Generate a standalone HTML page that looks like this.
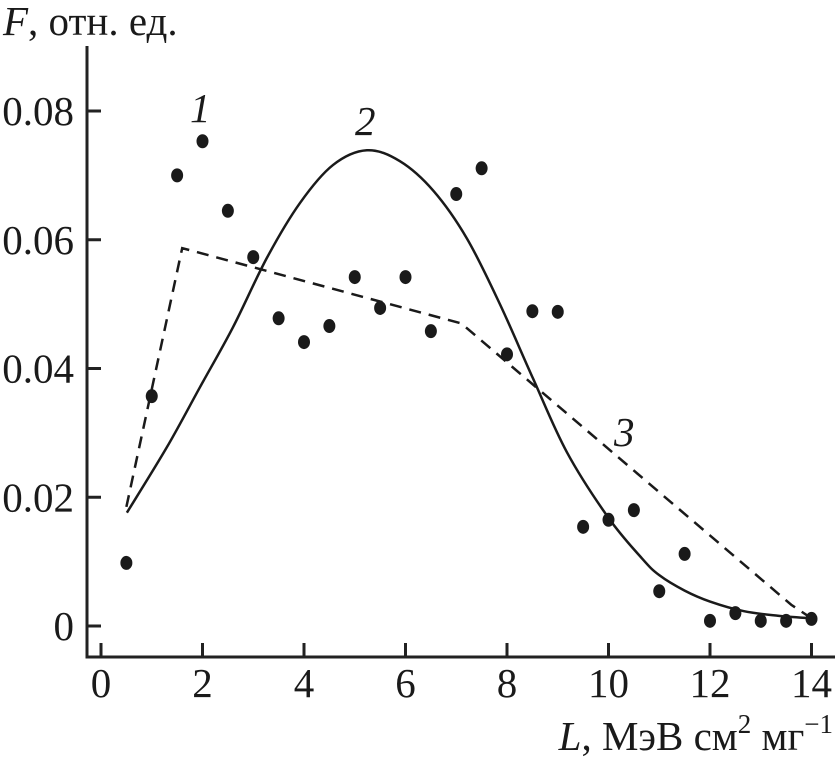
<!DOCTYPE html>
<html><head><meta charset="utf-8"><style>
html,body{margin:0;padding:0;background:#fff}
svg text{font-family:"Liberation Serif",serif;fill:#1a1a1a}
</style></head><body>
<svg id="chart" width="835" height="763" viewBox="0 0 835 763" xmlns="http://www.w3.org/2000/svg">
<g id="axes"></g>
<g id="marks"></g>
<text x="3" y="35" font-size="41"><tspan font-style="italic">F</tspan>, отн. ед.</text>
<text x="833" y="750" font-size="41" text-anchor="end"><tspan font-style="italic">L</tspan>, МэВ см<tspan font-size="27" dy="-17">2</tspan><tspan dy="17"> мг</tspan><tspan font-size="27" dy="-17">−1</tspan></text>
<text x="190" y="122" font-size="41" font-style="italic">1</text>
<text x="355" y="135" font-size="41" font-style="italic">2</text>
<text x="614" y="446" font-size="41" font-style="italic">3</text>
</svg>
<script>
const xTicks=[0,2,4,6,8,10,12,14];
const yTicks=[0,0.02,0.04,0.06,0.08];
const yTickLabels=["0","0.02","0.04","0.06","0.08"];
const pointX=[0.5,1,1.5,2,2.5,3,3.5,4,4.5,5,5.5,6,6.5,7,7.5,8,8.5,9,9.5,10,10.5,11,11.5,12,12.5,13,13.5,14];
const pointY=[0.0098,0.0357,0.0700,0.0753,0.0645,0.0573,0.0478,0.0441,0.0466,0.0542,0.0494,0.0542,0.0458,0.0671,0.0711,0.0422,0.0489,0.0488,0.0154,0.0165,0.0180,0.0054,0.0112,0.0008,0.0020,0.0008,0.0008,0.0011];
const curveX=[0.51,1.3,1.95,2.6,3.27,3.92,4.57,5.24,5.89,6.55,7.21,7.86,8.51,9.18,10,10.66,11.0,11.5,12,12.67,13.34,14];
const curveY=[0.0176,0.0278,0.0371,0.0464,0.0572,0.0657,0.0716,0.0739,0.0722,0.0676,0.0602,0.0500,0.0385,0.0270,0.0168,0.0105,0.0079,0.0055,0.0038,0.0023,0.0016,0.0012];
const dashX=[0.5,1.6,7.1,13.6,14];
const dashY=[0.0185,0.0587,0.0470,0.0033,0.0012];
const NS="http://www.w3.org/2000/svg";
const sx=v=>101+v*50.75, sy=v=>626-v*6437.5;
const axes=document.getElementById('axes'), marks=document.getElementById('marks');
function mk(tag,attrs,parent){const e=document.createElementNS(NS,tag);for(const k in attrs)e.setAttribute(k,attrs[k]);parent.appendChild(e);return e;}
let a=mk('path',{d:'M87,46 V657 H835',fill:'none',stroke:'#222','stroke-width':3},axes);


xTicks.forEach(t=>{
 const l=mk('line',{x1:sx(t),x2:sx(t),y1:657,y2:643,stroke:'#222','stroke-width':3},axes);
 
 
 const tx=mk('text',{x:sx(t),y:697,'font-size':41,'text-anchor':'middle'},axes);tx.textContent=t;
 
 
});
yTicks.forEach((t,i)=>{
 const l=mk('line',{x1:87,x2:101,y1:sy(t),y2:sy(t),stroke:'#222','stroke-width':3},axes);
 
 
 const tx=mk('text',{x:74,y:sy(t)+14,'font-size':41,'text-anchor':'end'},axes);tx.textContent=yTickLabels[i];
 
 
});
function smooth(xs,ys){const p=xs.map((x,i)=>[sx(x),sy(ys[i])]);let d='M'+p[0][0]+','+p[0][1];
 for(let i=0;i<p.length-1;i++){const p0=p[i-1]||p[i],p1=p[i],p2=p[i+1],p3=p[i+2]||p2;
 d+=' C'+(p1[0]+(p2[0]-p0[0])/6)+','+(p1[1]+(p2[1]-p0[1])/6)+' '+(p2[0]-(p3[0]-p1[0])/6)+','+(p2[1]-(p3[1]-p1[1])/6)+' '+p2[0]+','+p2[1];}return d;}
const c=mk('path',{d:smooth(curveX,curveY),fill:'none',stroke:'#1a1a1a','stroke-width':2.5},marks);


const dl=mk('polyline',{points:dashX.map((x,i)=>sx(x)+','+sy(dashY[i])).join(' '),fill:'none',stroke:'#1a1a1a','stroke-width':2.5,'stroke-dasharray':'12,8'},marks);


pointX.forEach((x,i)=>{
 const e=mk('ellipse',{cx:sx(x),cy:sy(pointY[i]),rx:6,ry:7,fill:'#1a1a1a'},marks);
 
 
});
</script>
</body></html>
